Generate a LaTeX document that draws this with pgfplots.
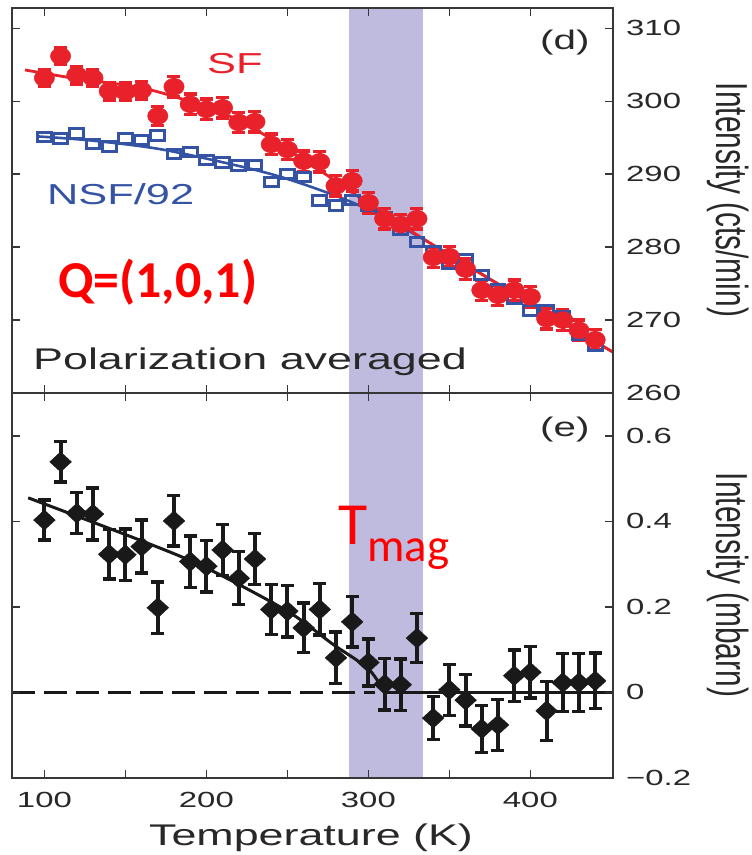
\documentclass[border=0pt]{standalone}
\usepackage{pgfplots}
\pgfplotsset{compat=1.18}
\usepackage{graphicx}
\usepackage{fontspec}
\setmainfont{Liberation Sans}
\newfontfamily\widefont[FakeStretch=1.5]{Liberation Sans}
\newfontfamily\calfont{Carlito}

\definecolor{sfred}{RGB}{232,33,42}
\definecolor{nsfblue}{RGB}{52,83,164}
\definecolor{band}{RGB}{191,187,222}
\definecolor{axgray}{RGB}{55,55,55}
\definecolor{txtgray}{RGB}{40,40,40}
\definecolor{markblack}{RGB}{25,25,25}

% SF intensity (cts/min) with errors
\pgfplotstableread{
T    I      e
100  303.2  1.1
110  306.2  1.1
120  303.6  1.2
130  303.2  1.2
140  301.4  1.2
150  301.3  1.2
160  301.5  1.2
170  298.0  1.3
180  302.0  1.4
190  299.6  1.4
200  298.9  1.4
210  299.1  1.4
220  297.1  1.4
230  297.2  1.4
240  294.1  1.4
250  293.4  1.4
260  291.8  1.4
270  291.7  1.4
280  288.4  1.4
290  289.1  1.4
300  286.1  1.4
310  283.9  1.4
320  283.1  1.4
330  283.9  1.4
340  278.6  1.4
350  278.7  1.4
360  277.0  1.4
370  274.1  1.4
380  273.4  1.4
390  274.1  1.4
400  273.2  1.4
410  270.2  1.4
420  270.0  1.4
430  268.6  1.4
440  267.3  1.4
}\sfdata

% NSF intensity divided by 92
\pgfplotstableread{
T    I
100  295.1
110  294.9
120  295.6
130  294.1
140  293.8
150  294.9
160  294.7
170  295.3
180  292.8
190  293.0
200  291.9
210  291.6
220  291.2
230  291.3
240  288.9
250  290.0
260  289.6
270  286.4
280  285.7
290  286.5
300  285.6
310  284.1
320  282.3
330  280.7
340  279.5
350  277.7
360  278.4
370  276.2
380  274.3
390  272.9
400  271.3
410  271.4
420  270.6
430  267.9
440  266.5
}\nsfdata

% magnetic intensity (mbarn)
\pgfplotstableread{
T    I       e
100  0.403   0.047
110  0.539   0.047
120  0.419   0.048
130  0.417   0.061
140  0.323   0.058
150  0.322   0.060
160  0.341   0.062
170  0.198   0.060
180  0.401   0.059
190  0.306   0.060
200  0.295   0.060
210  0.333   0.060
220  0.267   0.062
230  0.312   0.060
240  0.194   0.058
250  0.190   0.060
260  0.151   0.058
270  0.194   0.060
280  0.081   0.060
290  0.165   0.059
300  0.070   0.055
310  0.019   0.060
320  0.018   0.060
330  0.127   0.057
340  -0.060  0.050
350  0.006   0.060
360  -0.018  0.060
370  -0.085  0.055
380  -0.076  0.060
390  0.039   0.060
400  0.047   0.060
410  -0.043  0.069
420  0.023   0.068
430  0.023   0.068
440  0.027   0.065
}\magdata

\pgfplotsset{
  panel/.style={
    scale only axis, width=601bp, height=385bp,
    xmin=80, xmax=451,
    xtick={100,200,300,400}, minor xtick={150,250,350},
    tick align=inside, major tick length=8bp, minor tick length=8bp,
    every tick/.style={axgray, line width=1.6bp},
    axis line style={axgray, line width=2bp},
    yticklabel pos=right,
    tick label style={font=\widefont\fontsize{22}{24}\selectfont, text=txtgray},
    /pgf/number format/assume math mode=true,
    yticklabel style={anchor=west, inner sep=0pt, xshift=13bp},
    xticklabel style={anchor=north, inner sep=0pt, yshift=-14bp},
    axis on top,
  },
  errs/.style={
    error bars/.cd, y dir=both, y explicit,
    error bar style={line width=4bp, color=#1},
    error mark options={rotate=90, mark size=6.5bp, line width=3.4bp, color=#1},
  },
}

\begin{document}
\begin{tikzpicture}
\useasboundingbox (-12bp,-77bp) rectangle (740bp,778bp);

% ---- panel (d): SF and NSF/92 ----
\begin{axis}[panel, at={(0bp,385bp)}, anchor=south west,
  ymin=260, ymax=312.8, ytick={260,270,...,310},
  xticklabels={}]
\addplot[draw=none, fill=band] coordinates {(288,260) (288,312.8) (334,312.8) (334,260)} -- cycle;
\addplot[nsfblue, line width=2.6bp, smooth, tension=0.5] coordinates {
  (95,295.2) (130,294.6) (175,293.3) (237,290.2) (278,287.2) (305,284.6)
  (340,280.3) (406,271.5) (451,265.6)};
\addplot[nsfblue, only marks, mark=square, mark size=4.6bp,
  mark options={xscale=1.5, line width=3bp}] table[x=T, y=I] {\nsfdata};
\addplot[sfred, line width=2.8bp, smooth, tension=0.5] coordinates {
  (88,304.3) (120,303.1) (165,301.6) (216,297.8) (258,292.3) (300,286.0)
  (340,280.3) (406,271.5) (451,265.6)};
\addplot[sfred, only marks, mark=*, mark size=8.5bp,
  mark options={xscale=1.2, draw=sfred, fill=sfred}, errs=sfred]
  table[x=T, y=I, y error=e] {\sfdata};
\end{axis}

% ---- panel (e): magnetic intensity ----
\begin{axis}[panel, at={(0bp,0bp)}, anchor=south west,
  ymin=-0.2, ymax=0.7, ytick={-0.2,0,0.2,0.4,0.6},
  yticklabels={−0.2,0,0.2,0.4,0.6},
  xticklabels={100,200,300,400}]
\addplot[draw=none, fill=band] coordinates {(288,-0.2) (288,0.7) (334,0.7) (334,-0.2)} -- cycle;
\addplot[markblack, line width=3bp, dash pattern=on 23bp off 9bp] coordinates {(80,0) (304,0)};
\addplot[markblack, line width=3bp, smooth, tension=0.5] coordinates {
  (90,0.455) (161,0.353) (200,0.291) (250,0.190) (278,0.113) (300,0.055) (310,0)};
\addplot[markblack, line width=3bp] coordinates {(310,0) (451,0)};
\addplot[markblack, only marks, mark=diamond*, mark size=10bp,
  mark options={xscale=1.45}, errs=markblack]
  table[x=T, y=I, y error=e] {\magdata};
\end{axis}

% ---- labels ----
\node[anchor=base west, inner sep=0pt, text=sfred] at (195bp,704bp)
  {\widefont\fontsize{29}{30}\selectfont SF};
\node[anchor=base west, inner sep=0pt, text=nsfblue] at (35bp,573bp)
  {\widefont\fontsize{29}{30}\selectfont NSF/92};
\node[anchor=base west, inner sep=0pt, text=red] at (46bp,480bp)
  {\calfont\bfseries\fontsize{52}{52}\selectfont Q=(1,0,1)};
\node[anchor=base west, inner sep=0pt, text=txtgray] at (21bp,408bp)
  {\widefont\fontsize{30}{30}\selectfont Polarization averaged};
\node[anchor=base west, inner sep=0pt, text=txtgray] at (528bp,728bp)
  {\widefont\fontsize{27}{27}\selectfont (d)};
\node[anchor=base west, inner sep=0pt, text=txtgray] at (528bp,341bp)
  {\widefont\fontsize{27}{27}\selectfont (e)};
\node[anchor=base west, inner sep=0pt, text=red] at (326bp,233bp)
  {\calfont\fontsize{60}{60}\selectfont T\raisebox{-17bp}{\fontsize{47}{47}\selectfont mag}};
\node[anchor=base, inner sep=0pt, text=txtgray] at (299bp,-67bp)
  {\widefont\fontsize{30}{30}\selectfont Temperature (K)};
\node[rotate=-90, inner sep=0pt, text=txtgray] at (716bp,578bp)
  {\scalebox{1}[1.5]{\fontsize{30}{30}\selectfont Intensity (cts/min)}};
\node[rotate=-90, inner sep=0pt, text=txtgray] at (716bp,193bp)
  {\scalebox{1}[1.5]{\fontsize{30}{30}\selectfont Intensity (mbarn)}};
\end{tikzpicture}
\end{document}
